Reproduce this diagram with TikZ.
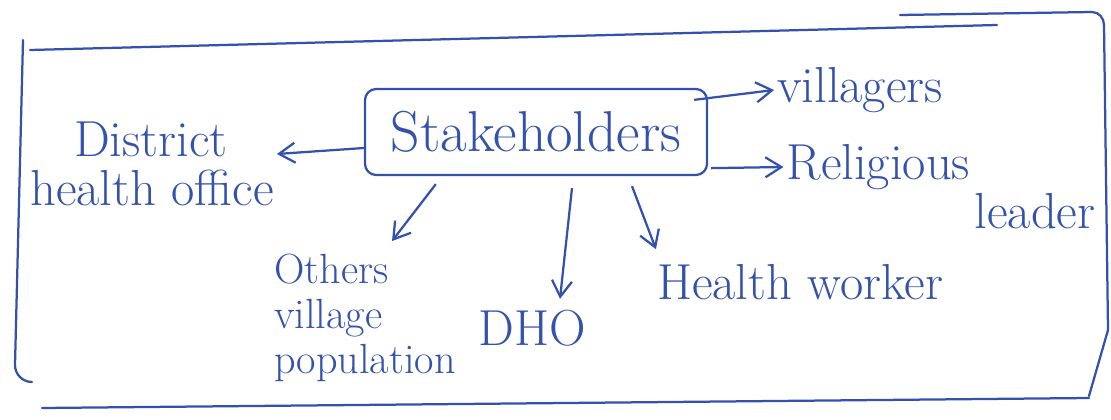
\documentclass[tikz,border=0pt]{standalone}
\usepackage{xcolor}
\usepackage{tikz}
\usetikzlibrary{arrows.meta, positioning, calc}

\definecolor{ink}{RGB}{52,82,172}

\begin{document}
\begin{tikzpicture}[
        x=0.025cm, y=-0.025cm,
        every node/.style={text=ink, font=\fontsize{36}{35}\selectfont, inner sep=2pt},
        main/.style={rectangle, rounded corners=8pt, draw=ink, line width=1.6pt, minimum width=8.55cm, minimum height=2.15cm, font=\fontsize{41}{44}\selectfont},
        label/.style={align=left},
        frame/.style={draw=ink, line width=1.6pt, line cap=round},
        link/.style={->, >={Straight Barb[length=4mm, width=5mm]}, draw=ink, line width=1.6pt}
    ]
    \useasboundingbox (0,0) rectangle (1111,420);

    % frame
    \draw[frame] (23,40) -- (15,365) to[out=-90,in=180] (32,382);
    \draw[frame] (30,50) -- (997,25);
    \draw[frame] (900,15) -- (1092,12) to[out=0,in=90] (1104,25) -- (1108,330) -- (1089,396);
    \draw[frame] (42,408) -- (1089,398);

    \node[main] (stake) at (536,132) {Stakeholders};

    \node[label] (dho) at (152,164) {\hspace*{1.1cm}District\\health office};
    \node[label] (vil) at (860,90) {villagers};
    \node[label] (rel) at (941,187) {Religious\\\hspace*{4.7cm}leader};
    \node[label, font=\fontsize{30}{32}\selectfont] (oth) at (365,318) {Others\\village\\population};
    \node (dhoff) at (532,328) {DHO};
    \node (hw) at (800,282) {Health worker};

    % arrows
    \draw[link] ($(stake.west)+(0,16)$) -- ($(dho.east)+(0,-10)$);
    \draw[link] ($(stake.north east)+(-14,12)$) -- (vil.west);
    \draw[link] ($(stake.south east)+(3,-8)$) -- ($(rel.west)+(0,-20)$);
    \draw[link] ($(stake.south west)+(72,8)$) -- ($(oth.north)+(27,-10)$);
    \draw[link] ($(stake.south)+(36,12)$) -- ($(dhoff.north)+(28,-8)$);
    \draw[link] ($(stake.south)+(96,10)$) -- ($(hw.north west)+(2,-12)$);
\end{tikzpicture}
\end{document}
